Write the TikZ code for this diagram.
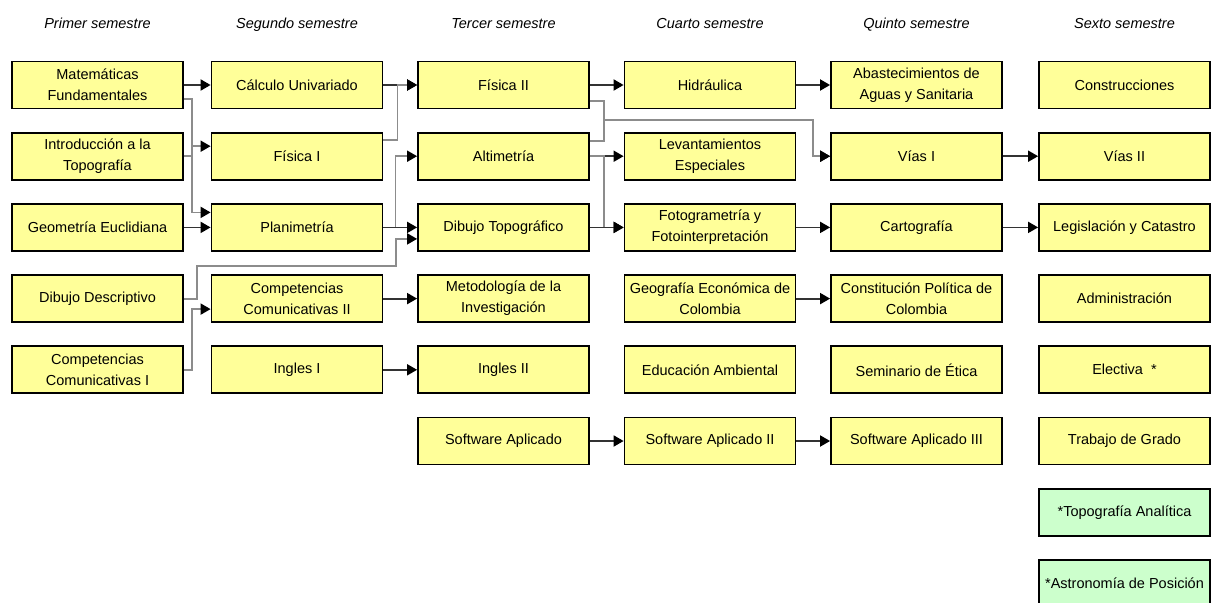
\documentclass[tikz,border=0pt]{standalone}
\usepackage{fontspec}
\setmainfont{Liberation Sans}
\usetikzlibrary{arrows.meta, positioning}
\definecolor{courseyellow}{HTML}{FFFF99}
\definecolor{electgreen}{HTML}{CCFFCC}
\tikzset{
    course/.style={
        rectangle,
        draw=black,
        line width=1.8pt,
        minimum width=171pt,
        minimum height=47pt,
        inner sep=1pt,
        align=center,
        fill=courseyellow,
        font=\fontsize{14.5}{21}\selectfont
    },
    elective/.style={
        course,
        fill=electgreen
    },
    semhead/.style={
        font=\fontsize{14.5}{17}\selectfont\itshape,
        inner sep=0pt,
        text height=11pt,
        text depth=3pt
    },
    wire/.style={
        draw=black!80,
        line width=1.8pt,
        -{Triangle[length=10pt,width=11pt,color=black]}
    },
    link/.style={
        draw=black!45,
        line width=1.8pt,
        -{Triangle[length=10pt,width=11pt,color=black]}
    }
}

\begin{document}
\begin{tikzpicture}[x=1pt, y=-1pt, node distance=22.4pt]
\useasboundingbox (0,0) rectangle (1212,602);

% Primer semestre
\node[course] (mat) at (97.5,85) {Matemáticas\\Fundamentales};
\node[course, below=of mat] (intro) {Introducción a la\\Topografía};
\node[course, below=of intro] (geo) {Geometría Euclidiana};
\node[course, below=of geo] (dibd) {Dibujo Descriptivo};
\node[course, below=of dibd] (compi) {Competencias\\Comunicativas I};

% Segundo semestre
\node[course] (calc) at (297,85) {Cálculo Univariado};
\node[course, below=of calc] (fis1) {Física I};
\node[course, below=of fis1] (plan) {Planimetría};
\node[course, below=of plan] (compii) {Competencias\\Comunicativas II};
\node[course, below=of compii] (ingi) {Ingles I};

% Tercer semestre
\node[course] (fis2) at (503.5,85) {Física II};
\node[course, below=of fis2] (alti) {Altimetría};
\node[course, below=of alti] (dibt) {Dibujo Topográfico};
\node[course, below=of dibt] (metod) {Metodología de la\\Investigación};
\node[course, below=of metod] (ingii) {Ingles II};
\node[course, below=of ingii] (sw1) {Software Aplicado};

% Cuarto semestre
\node[course] (hidr) at (710,85) {Hidráulica};
\node[course, below=of hidr] (levant) {Levantamientos\\Especiales};
\node[course, below=of levant] (fotog) {Fotogrametría y\\Fotointerpretación};
\node[course, below=of fotog] (geog) {Geografía Económica de\\Colombia};
\node[course, below=of geog] (educ) {Educación Ambiental};
\node[course, below=of educ] (sw2) {Software Aplicado II};

% Quinto semestre
\node[course] (abast) at (916.5,85) {Abastecimientos de\\Aguas y Sanitaria};
\node[course, below=of abast] (vias1) {Vías I};
\node[course, below=of vias1] (carto) {Cartografía};
\node[course, below=of carto] (const) {Constitución Política de\\Colombia};
\node[course, below=of const] (etica) {Seminario de Ética};
\node[course, below=of etica] (sw3) {Software Aplicado III};

% Sexto semestre
\node[course] (constr) at (1124.5,85) {Construcciones};
\node[course, below=of constr] (vias2) {Vías II};
\node[course, below=of vias2] (legis) {Legislación y Catastro};
\node[course, below=of legis] (admin) {Administración};
\node[course, below=of admin] (elect) {Electiva\ \ *};
\node[course, below=of elect] (grado) {Trabajo de Grado};
\node[elective, below=of grado] (topan) {*Topografía Analítica};
\node[elective, below=of topan] (astro) {*Astronomía de Posición};

% Semester headings
\node[semhead, above=29pt of mat] (sem1) {Primer semestre};
\node[semhead, above=29pt of calc] (sem2) {Segundo semestre};
\node[semhead, above=29pt of fis2] (sem3) {Tercer semestre};
\node[semhead, above=29pt of hidr] (sem4) {Cuarto semestre};
\node[semhead, above=29pt of abast] (sem5) {Quinto semestre};
\node[semhead, above=29pt of constr] (sem6) {Sexto semestre};

% Primer -> Segundo
\draw[wire] (mat) -- (calc);
\draw[link] ([yshift=-14pt]mat.east) -- ++(8,0) |- ([yshift=15pt]plan.west);
\draw[link] (intro.east) -- ++(8,0) |- ([yshift=10pt]fis1.west);
\draw[wire] (geo) -- (plan);
\draw[link] (dibd.east) -- ++(13,0) -- ++(0,-33) -- ++(199,0) |- ([yshift=-11.5pt]dibt.west);
\draw[link] (compi.east) -- ++(8,0) |- ([yshift=-10.5pt]compii.west);

% Segundo -> Tercer
\draw[wire] (calc) -- (fis2);
\draw[link] ([yshift=16pt]fis1.east) -- ++(14,0) |- (fis2.west);
\draw[link] (plan.east) -- ++(12,0) |- (alti.west);
\draw[wire] (plan) -- (dibt);
\draw[wire] (compii) -- (metod);
\draw[wire] (ingi) -- (ingii);

% Tercer -> Cuarto
\draw[wire] (fis2) -- (hidr);
\draw[link] ([yshift=-16pt]fis2.east) -- ++(14,0) -- ++(0,19) -- ++(209,0) |- (vias1.west);
\draw[link] ([yshift=15pt]alti.east) -- ++(14,0) -- ++(0,-21) -- ++(209,0) |- (vias1.west);
\draw[wire] (alti) -- (levant);
\draw[link] (alti.east) -- ++(14,0) |- (fotog.west);
\draw[wire] (dibt) -- (fotog);
\draw[wire] (sw1) -- (sw2);

% Cuarto -> Quinto
\draw[wire] (hidr) -- (abast);
\draw[wire] (fotog) -- (carto);
\draw[wire] (geog) -- (const);
\draw[wire] (sw2) -- (sw3);

% Quinto -> Sexto
\draw[wire] (vias1) -- (vias2);
\draw[wire] (carto) -- (legis);

\end{tikzpicture}
\end{document}
